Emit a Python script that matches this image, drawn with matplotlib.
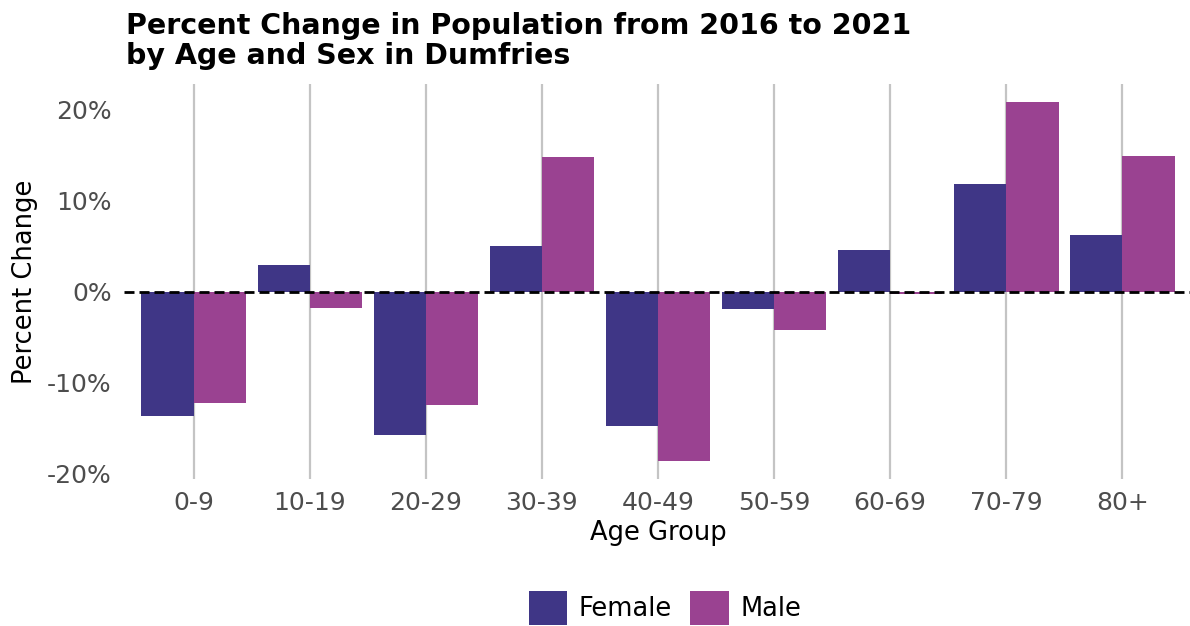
import matplotlib
matplotlib.use("Agg")
import matplotlib.pyplot as plt
import numpy as np

age_groups = ["0-9", "10-19", "20-29", "30-39", "40-49", "50-59", "60-69", "70-79", "80+"]
female_pct = [-13.6, 2.9, -15.7, 5.0, -14.8, -1.9, 4.6, 11.9, 6.2]
male_pct = [-12.2, -1.8, -12.4, 14.8, -18.6, -4.2, -0.2, 20.9, 14.9]
series_names = ["Female", "Male"]
colors = ["#3f3686", "#9a4291"]
yticks = [-20, -10, 0, 10, 20]

plt.rcParams['font.family'] = ['DejaVu Sans']

fig = plt.figure(figsize=(11.9, 6.26), dpi=100)
ax = fig.add_axes([124/1190, 147/626, 1068/1190, (542.2-147)/626])

x = np.arange(len(age_groups))
w = 0.45
ax.bar(x - w/2, female_pct, width=w, color=colors[0], label=series_names[0], zorder=2)
ax.bar(x + w/2, male_pct, width=w, color=colors[1], label=series_names[1], zorder=2)

ax.axhline(0, color="black", linewidth=2, linestyle=(0, (3.6, 1.8)), zorder=3)

allv = female_pct + male_pct + [0]
lo, hi = min(allv), max(allv)
pad = (hi - lo) * 0.05
ax.set_ylim(lo - pad, hi + pad)
ax.set_xlim(-0.6, len(age_groups) - 0.4)

ax.set_xticks(x)
ax.set_xticklabels(age_groups)
ax.set_yticks(yticks)
ax.set_yticklabels([f"{v}%" for v in yticks])
ax.tick_params(axis="both", length=0, labelsize=18, labelcolor="#4d4d4d")
ax.tick_params(axis="x", pad=9)
ax.tick_params(axis="y", pad=9)

ax.grid(axis="x", color="#c4c4c4", linewidth=1.6, zorder=0)
ax.grid(axis="y", visible=False)
ax.set_axisbelow(True)
for s in ax.spines.values():
    s.set_visible(False)

ax.set_xlabel("Age Group", fontsize=18.5, labelpad=3)
ax.set_ylabel("Percent Change", fontsize=18.5, labelpad=6)

fig.text(126/1190, 1 - 12/626, "Percent Change in Population from 2016 to 2021\nby Age and Sex in Dumfries",
         fontsize=20.5, fontweight="bold", ha="left", va="top", linespacing=1.08)

fig.legend(loc="center", bbox_to_anchor=(665/1190, 1 - 608/626), ncol=2, frameon=False,
           fontsize=18.5, handlelength=1.5, handleheight=1.65, handletextpad=0.45,
           columnspacing=0.7, borderpad=0)

fig.savefig("out.png", dpi=100)
